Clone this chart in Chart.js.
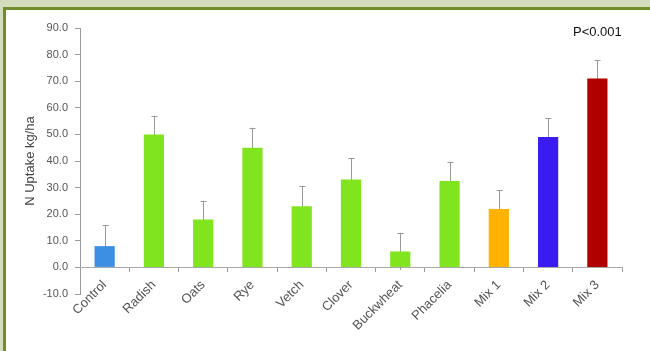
<!DOCTYPE html>
<html>
<head>
<meta charset="utf-8">
<script src="https://cdn.jsdelivr.net/npm/chart.js@4.4.0/dist/chart.umd.min.js"></script>
<style>
  html, body { margin:0; padding:0; width:650px; height:351px; overflow:hidden; background:#d3dcbc; }
  #frame { position:absolute; left:3px; top:7px; right:0; bottom:0; background:#ffffff;
           border-left:3px solid #6e8f2c; border-top:3px solid #6e8f2c; }
  #c { position:absolute; left:0; top:0; }
  #pval { position:absolute; left:573px; top:24px; font-family:"Liberation Sans", Arial, sans-serif;
          font-size:13px; color:#111; }
</style>
</head>
<body>
<div id="frame"></div>
<canvas id="c" width="650" height="351"></canvas>
<div id="pval">P&lt;0.001</div>
<script>
const categories = ["Control","Radish","Oats","Rye","Vetch","Clover","Buckwheat","Phacelia","Mix 1","Mix 2","Mix 3"];
const uptake = [8, 50, 18, 45, 23, 33, 6, 32.5, 22, 49, 71];
const errors = [8, 7, 7, 7.5, 7.5, 8, 7, 7, 7, 7, 7];
const barColors = ["#3d8fe4","#80e41e","#80e41e","#80e41e","#80e41e","#80e41e","#80e41e","#80e41e","#ffb300","#3b1cf0","#b00000"];
const yTicks = [-10, 0, 10, 20, 30, 40, 50, 60, 70, 80, 90];

const errorBars = {
  id: 'errorBars',
  beforeDatasetsDraw(chart) {
    const ctx = chart.ctx;
    const meta = chart.getDatasetMeta(0);
    const ys = chart.scales.y;
    ctx.save();
    ctx.strokeStyle = '#999999';
    ctx.lineWidth = 1;
    meta.data.forEach((bar, i) => {
      const x = Math.round(bar.x) + 0.5;
      const top = ys.getPixelForValue(uptake[i] + errors[i]);
      const bot = ys.getPixelForValue(uptake[i] - errors[i]);
      ctx.beginPath();
      ctx.moveTo(x, top); ctx.lineTo(x, bot);
      ctx.moveTo(x - 3, Math.round(top) + 0.5); ctx.lineTo(x + 3, Math.round(top) + 0.5);
      ctx.stroke();
    });
    ctx.restore();
  }
};

new Chart(document.getElementById('c'), {
  type: 'bar',
  data: {
    labels: categories,
    datasets: [{
      data: uptake,
      backgroundColor: barColors,
      borderWidth: 0,
      barPercentage: 0.41,
      categoryPercentage: 1.0
    }]
  },
  options: {
    responsive: false,
    animation: false,
    devicePixelRatio: 1,
    layout: { padding: { left: 23, top: 28, right: 28, bottom: 57 } },
    plugins: { legend: { display: false }, tooltip: { enabled: false } },
    scales: {
      y: {
        min: -10, max: 90,
        afterBuildTicks(scale) { scale.ticks = yTicks.map(v => ({ value: v })); },
        afterFit(scale) { scale.width = 57; },
        ticks: {
          callback: v => Number(v).toFixed(1),
          font: { family: "Liberation Sans", size: 11 },
          color: '#555',
          padding: 7
        },
        grid: { drawOnChartArea: false, tickLength: 5, tickColor: '#9a9a9a' },
        border: { display: true, color: '#9a9a9a' },
        title: {
          display: true, text: 'N Uptake kg/ha',
          font: { family: "Liberation Sans", size: 13 }, color: '#444', padding: 0
        }
      },
      x: {
        position: { y: 0 },
        offset: true,
        ticks: {
          minRotation: 45, maxRotation: 45, autoSkip: false,
          font: { family: "Liberation Sans", size: 13 },
          color: '#555',
          padding: 6
        },
        grid: { offset: true, drawOnChartArea: false, tickLength: 4, tickColor: '#9a9a9a' },
        border: { display: true, color: '#a8a8a8' }
      }
    }
  },
  plugins: [errorBars]
});
</script>
</body>
</html>
